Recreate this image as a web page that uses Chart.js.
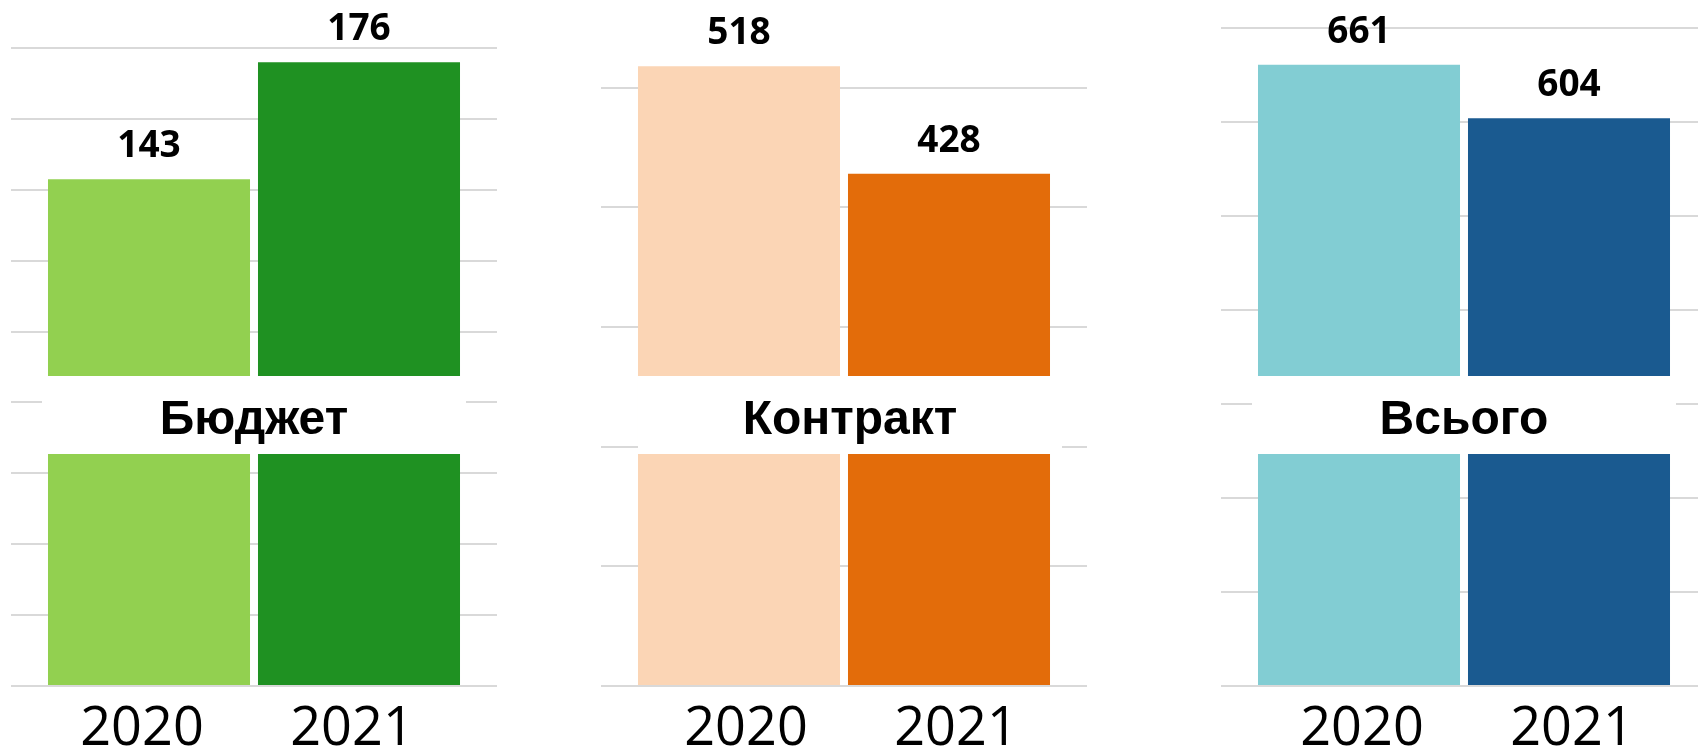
<!DOCTYPE html>
<html>
<head>
<meta charset="utf-8">
<script src="https://cdn.jsdelivr.net/npm/chart.js@4.4.0/dist/chart.umd.min.js"></script>
<style>
  html, body { margin: 0; padding: 0; background: #fff; overflow: hidden; }
  body { width: 1698px; height: 752px; position: relative; }
  .panel { position: absolute; }
</style>
</head>
<body>
<div class="panel" style="left:11px; top:0; width:486px; height:752px"><canvas id="budgetChart"></canvas></div>
<div class="panel" style="left:601px; top:-32px; width:486px; height:784px"><canvas id="contractChart"></canvas></div>
<div class="panel" style="left:1221px; top:0; width:477px; height:752px"><canvas id="totalChart"></canvas></div>
<script>
const years = ['2020', '2021'];
const budget = [143, 176];
const contract = [518, 428];
const total = [661, 604];
const titles = ['Бюджет', 'Контракт', 'Всього'];

// value labels above bars + white "break" band with the group name
const barDecor = {
  id: 'barDecor',
  afterDatasetsDraw(chart, args, opts) {
    const ctx = chart.ctx;
    const area = chart.chartArea;
    const meta = chart.getDatasetMeta(0);
    const values = chart.data.datasets[0].data;
    ctx.save();
    ctx.textAlign = 'center';
    ctx.textBaseline = 'alphabetic';
    ctx.fillStyle = '#000';
    ctx.font = 'bold 37px "Open Sans"';
    meta.data.forEach((bar, i) => {
      ctx.fillText(values[i], bar.x, bar.y - 22);
    });

    const first = meta.data[0];
    const last = meta.data[meta.data.length - 1];
    const shift = opts.shift || 0;
    const left = first.x - first.width / 2 - 6 + shift;
    const right = last.x + last.width / 2 + 6 + shift;
    const top = area.bottom - 310;
    const bottom = area.bottom - 232;
    ctx.fillStyle = '#fff';
    ctx.fillRect(left, top, right - left, bottom - top);
    ctx.fillStyle = '#000';
    ctx.font = 'bold 48px "Liberation Sans"';
    ctx.fillText(opts.title, (left + right) / 2, area.bottom - 252);
    ctx.restore();
  }
};

function makePanel(id, values, colors, title, shift, yearShift, max, step, padTop, tickLeft, tickRight) {
  const grid = { color: '#d9d9d9', lineWidth: 2 };
  new Chart(document.getElementById(id), {
    type: 'bar',
    data: {
      labels: years,
      datasets: [{
        data: values,
        backgroundColor: colors,
        borderWidth: 0,
        categoryPercentage: 1,
        barPercentage: 0.962
      }]
    },
    options: {
      responsive: true,
      maintainAspectRatio: false,
      animation: false,
      layout: { padding: { top: padTop, left: 0, right: 0, bottom: 0 } },
      plugins: {
        legend: { display: false },
        tooltip: { enabled: false },
        barDecor: { title: title, shift: shift }
      },
      scales: {
        x: {
          grid: { display: false },
          border: { display: false },
          ticks: {
            color: '#000',
            padding: 9,
            labelOffset: yearShift,
            font: { family: 'Open Sans', size: 54, lineHeight: 1 }
          },
          afterFit: s => { s.height = 66; }
        },
        y: {
          min: 0,
          max: max,
          ticks: { display: false, stepSize: step },
          grid: Object.assign({ tickLength: tickLeft }, grid),
          border: { display: false }
        },
        yR: {
          position: 'right',
          min: 0,
          max: max,
          ticks: { display: false, stepSize: step },
          grid: Object.assign({ tickLength: tickRight, drawOnChartArea: false }, grid),
          border: { display: false }
        }
      }
    },
    plugins: [barDecor]
  });
}

makePanel('budgetChart', budget, ['#92d050', '#1f9122'], titles[0], 0, -7, 180, 20, 48, 33, 33);
makePanel('contractChart', contract, ['#fbd5b5', '#e36c0a'], titles[1], 6, 7, 600, 100, 0, 33, 33);
makePanel('totalChart', total, ['#82cdd3', '#1a5a90'], titles[2], 0, 3, 700, 100, 28, 33, 24);
</script>
</body>
</html>
